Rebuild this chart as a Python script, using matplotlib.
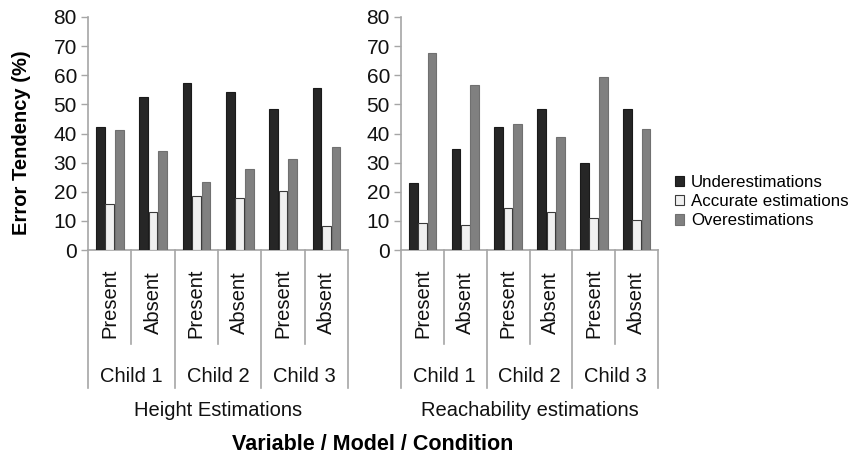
import matplotlib
matplotlib.use("Agg")
import matplotlib.pyplot as plt
import matplotlib.transforms as mtransforms
from matplotlib.patches import Patch
import numpy as np

plt.rcParams['font.family'] = ['Liberation Sans', 'DejaVu Sans']

conditions = ["Present", "Absent", "Present", "Absent", "Present", "Absent"]
children = ["Child 1", "Child 2", "Child 3"]
panels = ["Height Estimations", "Reachability estimations"]
series = ["Underestimations", "Accurate estimations", "Overestimations"]
yticks = [0, 10, 20, 30, 40, 50, 60, 70, 80]

height_under = [42.2, 52.5, 57.5, 54.2, 48.3, 55.7]
height_accurate = [15.9, 13.2, 18.4, 18.0, 20.3, 8.3]
height_over = [41.3, 33.9, 23.5, 27.9, 31.3, 35.4]

reach_under = [23.0, 34.8, 42.4, 48.3, 29.7, 48.3]
reach_accurate = [9.4, 8.5, 14.3, 13.0, 11.1, 10.3]
reach_over = [67.7, 56.7, 43.2, 38.9, 59.4, 41.4]

panel_data = [
    [height_under, height_accurate, height_over],
    [reach_under, reach_accurate, reach_over],
]

W, H = 848, 457
fig = plt.figure(figsize=(W / 100, H / 100), dpi=100)

face = ["#262626", "#f0f0f0", "#808080"]
edge = ["#1a1a1a", "#3a3a3a", "#707070"]
offsets = [-0.215, 0.0, 0.222]
bw = 0.205
axcol = "#a6a6a6"
fs_tick = 15
fs = 14.5

def fy(py):
    return 1 - py / H

axes_px = [(88, 348), (401, 658)]
top_px, bot_px = 17, 250

for p, (x0, x1) in enumerate(axes_px):
    ax = fig.add_axes([x0 / W, fy(bot_px), (x1 - x0) / W, (bot_px - top_px) / H])
    x = np.arange(len(conditions))
    for s in range(3):
        ax.bar(x + offsets[s], panel_data[p][s], width=bw, color=face[s],
               edgecolor=edge[s], linewidth=0.8, zorder=3)
    ax.set_xlim(-0.5, 5.5)
    ax.set_ylim(0, 80)
    ax.set_yticks(yticks)
    ax.set_yticklabels([str(t) for t in yticks], fontsize=fs_tick, color="#111111")
    ax.tick_params(axis='y', direction='out', length=5, color=axcol, width=1, pad=3)
    ax.set_xticks([])
    for sp in ['top', 'right']:
        ax.spines[sp].set_visible(False)
    for sp in ['left', 'bottom']:
        ax.spines[sp].set_color(axcol)
        ax.spines[sp].set_linewidth(1.2)
    trans = mtransforms.blended_transform_factory(ax.transData, fig.transFigure)
    for b in [-0.5, 1.5, 3.5, 5.5]:
        ax.plot([b, b], [fy(bot_px), fy(388)], transform=trans, color=axcol,
                lw=1.2, clip_on=False)
    for b in [0.5, 2.5, 4.5]:
        ax.plot([b, b], [fy(bot_px), fy(344)], transform=trans, color=axcol,
                lw=1.2, clip_on=False)
    for i, c in enumerate(conditions):
        ax.text(i, fy(303), c, transform=trans, rotation=90, ha='center',
                va='center', fontsize=fs, color="#111111")
    for k, ch in enumerate(children):
        ax.text(2 * k + 0.5, fy(376), ch, transform=trans, ha='center',
                va='center', fontsize=fs, color="#111111")
    ax.text(2.5, fy(411), panels[p], transform=trans, ha='center',
            va='center', fontsize=fs, color="#111111")
    if p == 0:
        fig.text(22 / W, fy(143), "Error Tendency (%)", rotation=90,
                 ha='center', va='center', fontsize=14.5, fontweight='bold')

fig.text(373 / W, fy(445), "Variable / Model / Condition", ha='center',
         va='center', fontsize=15.5, fontweight='bold')

handles = [Patch(facecolor=face[s], edgecolor=edge[s], linewidth=0.8) for s in range(3)]
fig.legend(handles, series, loc='upper left', bbox_to_anchor=(675 / W, fy(175)),
           frameon=False, fontsize=12.2, handlelength=0.55, handleheight=0.55,
           handletextpad=0.4, labelspacing=0.25, borderaxespad=0, borderpad=0)

fig.savefig("out.png", dpi=100)
